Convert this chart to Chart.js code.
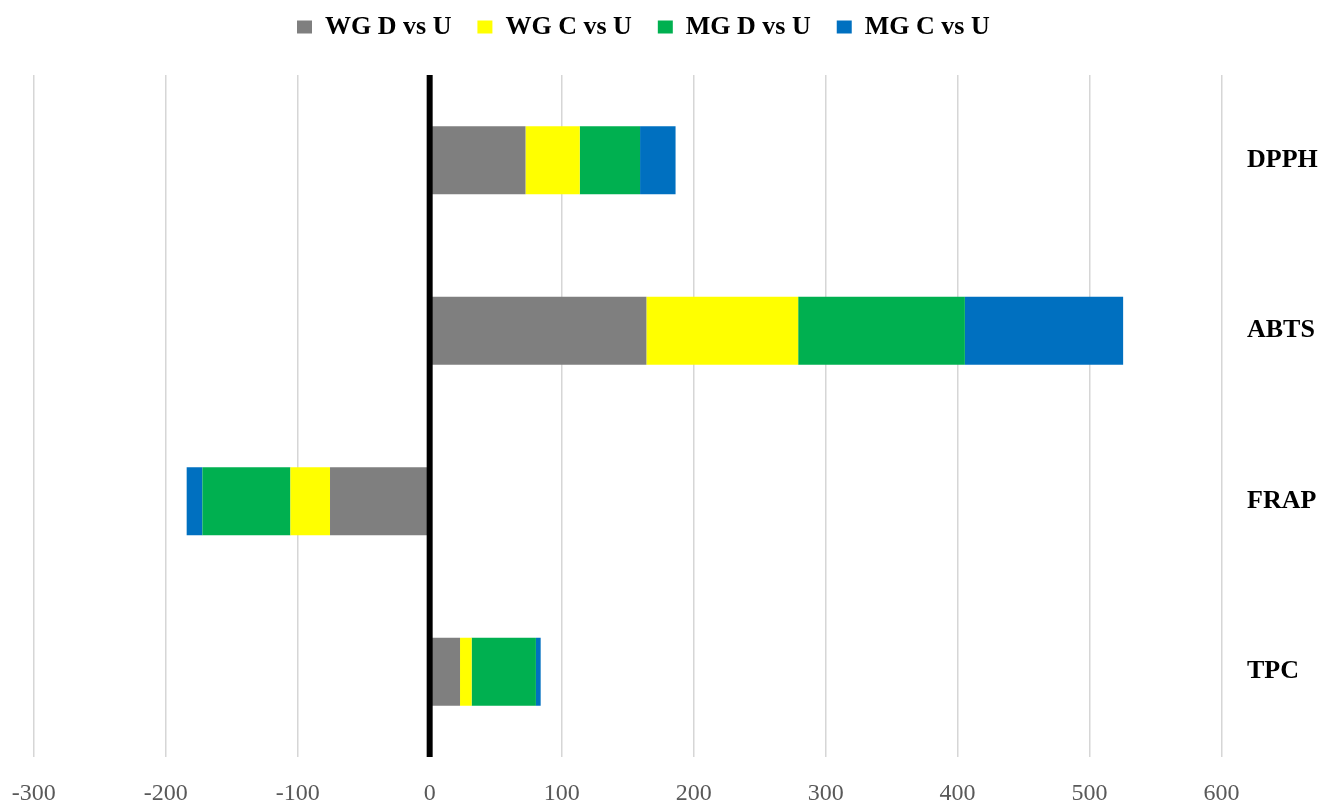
<!DOCTYPE html>
<html>
<head>
<meta charset="utf-8">
<script src="https://cdn.jsdelivr.net/npm/chart.js@4/dist/chart.umd.min.js"></script>
<style>
  html, body { margin: 0; padding: 0; background: #ffffff; }
  #wrap { width: 1321px; height: 802px; position: relative; }
</style>
</head>
<body>
<div id="wrap"><canvas id="chart" width="1321" height="802"></canvas></div>
<script>
// Assays (one horizontal stacked bar each)
const categories = ['DPPH', 'ABTS', 'FRAP', 'TPC'];

// Comparison series, in stacking order
const seriesNames = ['WG D vs U', 'WG C vs U', 'MG D vs U', 'MG C vs U'];
const wgDvsU = [72.6, 164.2, -75.5, 23.0];
const wgCvsU = [41.1, 115.0, -30.0, 8.8];
const mgDvsU = [45.7, 126.3, -66.7, 48.7];
const mgCvsU = [26.9, 119.9, -11.9, 3.6];
const seriesColors = ['#7f7f7f', '#ffff00', '#00b050', '#0070c0'];

// Value axis
const xMin = -300;
const xMax = 600;
const xStep = 100;

const seriesValues = [wgDvsU, wgCvsU, mgDvsU, mgCvsU];

// Heavy black reference line at zero, drawn over the bars
const zeroLine = {
  id: 'zeroLine',
  afterDatasetsDraw(chart) {
    const x = chart.scales.x.getPixelForValue(0);
    const { top, bottom } = chart.chartArea;
    const ctx = chart.ctx;
    ctx.save();
    ctx.strokeStyle = '#000000';
    ctx.lineWidth = 6;
    ctx.beginPath();
    ctx.moveTo(x, top);
    ctx.lineTo(x, bottom);
    ctx.stroke();
    ctx.restore();
  }
};

// Lift the legend row towards the top edge and nudge it left a little
const legendPlacement = {
  id: 'legendPlacement',
  afterLayout(chart) {
    const lg = chart.legend;
    if (!lg) return;
    lg.top -= 25;
    lg.bottom -= 25;
    lg.left -= 34;
    lg.right -= 34;
  }
};

const serif = '"Liberation Serif", "Times New Roman", serif';

new Chart(document.getElementById('chart'), {
  type: 'bar',
  data: {
    labels: categories,
    datasets: seriesNames.map((name, i) => ({
      label: name,
      data: seriesValues[i],
      backgroundColor: seriesColors[i],
      borderWidth: 0,
      categoryPercentage: 1.0,
      barPercentage: 0.4
    }))
  },
  options: {
    indexAxis: 'y',
    responsive: false,
    animation: false,
    layout: { padding: { top: 13, left: 33.7, right: 0, bottom: 0 } },
    plugins: {
      legend: {
        position: 'top',
        align: 'center',
        labels: {
          boxWidth: 15,
          boxHeight: 13,
          padding: 26,
          color: '#000000',
          font: { family: serif, size: 26, weight: 'bold' }
        }
      },
      tooltip: { enabled: false }
    },
    scales: {
      x: {
        type: 'linear',
        position: 'bottom',
        stacked: true,
        min: xMin,
        max: xMax,
        border: { display: false },
        grid: {
          drawTicks: false,
          color: (ctx) => (ctx.tick && ctx.tick.value === 0 ? 'rgba(0,0,0,0)' : '#d6d6d6'),
          lineWidth: 1.5
        },
        ticks: {
          stepSize: xStep,
          padding: 22,
          color: '#595959',
          font: { family: serif, size: 24 }
        },
        afterFit(scale) {
          scale.height = 45;
          // end labels may overhang the plot; the outer margins already leave room
          scale.paddingLeft = 0;
          scale.paddingRight = 0;
        }
      },
      y: {
        type: 'category',
        position: 'right',
        stacked: true,
        border: { display: false },
        grid: { display: false },
        ticks: {
          crossAlign: 'near',
          padding: 17.4,
          color: '#000000',
          font: { family: serif, size: 26, weight: 'bold' }
        },
        afterFit(scale) { scale.width = 99.4; }
      }
    }
  },
  plugins: [zeroLine, legendPlacement]
});
</script>
</body>
</html>
